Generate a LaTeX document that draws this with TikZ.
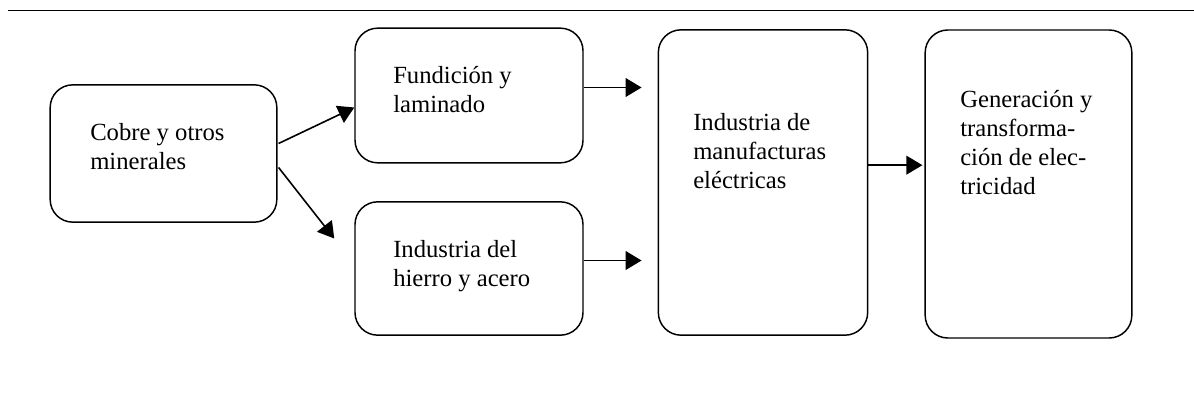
\documentclass[tikz,border=0pt]{standalone}
\usepackage{fontspec}
\setmainfont{Liberation Serif}
\usetikzlibrary{arrows.meta,calc}

\tikzset{
  caja/.style={draw,rounded corners=17pt,line width=1.1pt,inner sep=0pt},
  flecha/.style={line width=1.2pt,-{Triangle[length=12pt,width=14pt]}},
  texto/.style={anchor=north west,inner sep=0pt,align=left,
    font=\fontsize{18.5}{21.75}\selectfont}
}

\begin{document}
\begin{tikzpicture}
    [x=0.75pt,y=-0.75pt]
    \useasboundingbox (0,0) rectangle (1194,409);
    \draw[line width=0.6pt] (8,10) -- (1194,10);
    % cajas
    \node[caja,minimum width=170pt,minimum height=103pt] (cobre) at (163.5,153.5) {};
    \node[caja,minimum width=171pt,minimum height=101pt] (fundicion) at (469,95.5) {};
    \node[caja,minimum width=171pt,minimum height=100pt] (hierro) at (469,268.5) {};
    \node[caja,minimum width=157pt,minimum height=229pt] (manuf) at (763,182.5) {};
    \node[caja,minimum width=155pt,minimum height=231pt] (gener) at (1028.5,184) {};
    % textos
    \node[texto] (tcobre) at (90,123) {Cobre y otros\\minerales};
    \node[texto] (tfundicion) at (393,66) {Fundición y\\laminado};
    \node[texto] (thierro) at (393,240) {Industria del\\hierro y acero};
    \node[texto] (tmanuf) at (693,113) {Industria de\\manufacturas\\eléctricas};
    \node[texto] (tgener) at (960,90) {Generación y\\transforma-\\ción de elec-\\tricidad};
    % flechas
    \draw[flecha] ($(cobre.east)+(1,-10)$) -- ($(fundicion.west)+(0,12)$);
    \draw[flecha] ($(cobre.east)+(1,14)$) -- ($(hierro.west)+(-20,-30)$);
    \draw[flecha,shorten >=12pt] ([yshift=6pt]fundicion.east) -- ([yshift=6pt]fundicion.east -| manuf.west);
    \draw[flecha,shorten >=12pt] ([yshift=6pt]hierro.east) -- ([yshift=6pt]hierro.east -| manuf.west);
    \draw[flecha,shorten >=1.5pt] ([yshift=13pt]manuf.east) -- ([yshift=13pt]manuf.east -| gener.west);
\end{tikzpicture}
\end{document}
